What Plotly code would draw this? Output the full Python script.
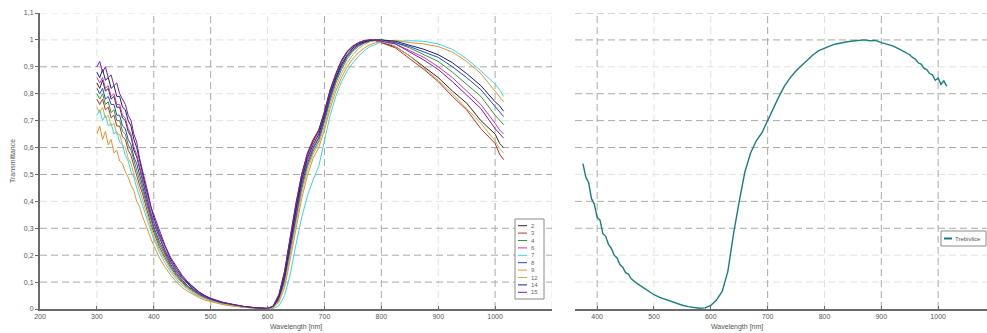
import plotly.graph_objects as go

# ---------------- data ----------------
wl_left = [300, 305, 310, 315, 320, 325, 330, 335, 340, 345, 350, 355, 360, 365, 370, 375, 380, 385, 390, 395, 400,
           410, 420, 430, 440, 450, 460, 470, 480, 490, 500,
           520, 540, 560, 580, 600,
           610, 620, 630, 640, 650, 660, 670, 680, 690, 700, 710, 720, 730, 740, 750, 760, 770, 780, 790, 800,
           825, 850, 875, 900, 925, 950, 975, 1000, 1008, 1015]

sample_2 = [0.84, 0.82, 0.85, 0.81, 0.82, 0.78, 0.79, 0.75, 0.75, 0.71, 0.70, 0.66, 0.64, 0.59, 0.565, 0.52, 0.48, 0.44, 0.395, 0.355, 0.32,
            0.265, 0.215, 0.174, 0.14, 0.113, 0.091, 0.073, 0.058, 0.046, 0.036,
            0.023, 0.014, 0.008, 0.004, 0.002,
            0.01, 0.05, 0.14, 0.27, 0.39, 0.50, 0.575, 0.625, 0.665, 0.735, 0.815, 0.875, 0.925, 0.958, 0.978, 0.99, 0.998, 1.0, 0.997, 0.99,
            0.975, 0.94, 0.90, 0.86, 0.81, 0.765, 0.70, 0.65, 0.615, 0.60]
sample_3 = [0.78, 0.76, 0.78, 0.74, 0.75, 0.71, 0.72, 0.68, 0.68, 0.64, 0.63, 0.59, 0.57, 0.53, 0.50, 0.46, 0.43, 0.39, 0.35, 0.315, 0.285,
            0.23, 0.19, 0.153, 0.123, 0.099, 0.08, 0.064, 0.051, 0.04, 0.032,
            0.02, 0.012, 0.007, 0.003, 0.001,
            0.01, 0.05, 0.13, 0.26, 0.38, 0.49, 0.57, 0.62, 0.66, 0.73, 0.81, 0.87, 0.92, 0.955, 0.975, 0.99, 0.997, 1.0, 0.998, 0.99,
            0.97, 0.93, 0.89, 0.845, 0.79, 0.74, 0.67, 0.615, 0.575, 0.555]
sample_4 = [0.80, 0.78, 0.80, 0.76, 0.77, 0.73, 0.74, 0.70, 0.70, 0.66, 0.65, 0.61, 0.59, 0.55, 0.52, 0.48, 0.445, 0.405, 0.365, 0.33, 0.295,
            0.24, 0.197, 0.16, 0.128, 0.103, 0.083, 0.067, 0.053, 0.042, 0.033,
            0.021, 0.013, 0.007, 0.003, 0.001,
            0.007, 0.035, 0.10, 0.215, 0.335, 0.445, 0.53, 0.585, 0.625, 0.695, 0.775, 0.84, 0.89, 0.93, 0.958, 0.976, 0.988, 0.995, 0.999, 1.0,
            0.99, 0.97, 0.945, 0.92, 0.88, 0.835, 0.79, 0.72, 0.70, 0.685]
sample_6 = [0.86, 0.84, 0.86, 0.82, 0.83, 0.79, 0.80, 0.76, 0.76, 0.72, 0.71, 0.67, 0.65, 0.60, 0.575, 0.53, 0.49, 0.445, 0.40, 0.36, 0.325,
            0.27, 0.22, 0.178, 0.143, 0.115, 0.093, 0.075, 0.06, 0.047, 0.037,
            0.024, 0.015, 0.008, 0.004, 0.002,
            0.008, 0.04, 0.115, 0.24, 0.36, 0.47, 0.55, 0.60, 0.64, 0.71, 0.79, 0.855, 0.905, 0.94, 0.965, 0.982, 0.992, 0.998, 1.0, 0.998,
            0.985, 0.96, 0.935, 0.90, 0.86, 0.81, 0.76, 0.69, 0.665, 0.65]
sample_7 = [0.72, 0.74, 0.70, 0.72, 0.68, 0.69, 0.65, 0.66, 0.62, 0.61, 0.57, 0.55, 0.51, 0.49, 0.45, 0.42, 0.385, 0.355, 0.32, 0.29, 0.26,
            0.21, 0.17, 0.137, 0.11, 0.089, 0.072, 0.058, 0.047, 0.037, 0.03,
            0.019, 0.011, 0.006, 0.003, 0.001,
            0.002, 0.012, 0.05, 0.13, 0.24, 0.34, 0.42, 0.48, 0.53, 0.62, 0.72, 0.79, 0.845, 0.885, 0.915, 0.94, 0.96, 0.975, 0.985, 0.992,
            0.995, 0.997, 0.995, 0.985, 0.965, 0.93, 0.885, 0.835, 0.815, 0.79]
sample_8 = [0.82, 0.80, 0.82, 0.78, 0.79, 0.76, 0.76, 0.72, 0.72, 0.68, 0.67, 0.63, 0.61, 0.565, 0.54, 0.495, 0.46, 0.42, 0.38, 0.34, 0.305,
            0.25, 0.205, 0.165, 0.133, 0.107, 0.086, 0.069, 0.055, 0.044, 0.035,
            0.022, 0.014, 0.008, 0.004, 0.002,
            0.008, 0.038, 0.11, 0.23, 0.35, 0.46, 0.54, 0.595, 0.635, 0.705, 0.785, 0.85, 0.90, 0.938, 0.963, 0.98, 0.99, 0.996, 1.0, 1.0,
            0.99, 0.975, 0.955, 0.935, 0.90, 0.86, 0.815, 0.75, 0.73, 0.715]
sample_9 = [0.65, 0.68, 0.63, 0.66, 0.61, 0.63, 0.58, 0.59, 0.55, 0.54, 0.51, 0.49, 0.46, 0.44, 0.40, 0.38, 0.345, 0.32, 0.29, 0.26, 0.235,
            0.19, 0.155, 0.125, 0.10, 0.08, 0.065, 0.052, 0.042, 0.033, 0.027,
            0.017, 0.01, 0.006, 0.003, 0.001,
            0.005, 0.025, 0.08, 0.185, 0.30, 0.41, 0.495, 0.56, 0.60, 0.665, 0.745, 0.81, 0.86, 0.90, 0.93, 0.953, 0.97, 0.982, 0.99, 0.995,
            0.998, 0.99, 0.985, 0.975, 0.955, 0.92, 0.875, 0.81, 0.79, 0.77]
sample_12 = [0.75, 0.73, 0.75, 0.71, 0.72, 0.68, 0.69, 0.65, 0.65, 0.61, 0.60, 0.56, 0.54, 0.50, 0.475, 0.44, 0.41, 0.37, 0.335, 0.30, 0.27,
             0.22, 0.18, 0.145, 0.117, 0.094, 0.076, 0.061, 0.049, 0.039, 0.031,
             0.019, 0.012, 0.006, 0.003, 0.001,
             0.006, 0.03, 0.09, 0.20, 0.32, 0.43, 0.515, 0.575, 0.615, 0.68, 0.76, 0.825, 0.875, 0.915, 0.945, 0.968, 0.983, 0.993, 0.998, 1.0,
             0.975, 0.94, 0.895, 0.85, 0.80, 0.745, 0.69, 0.625, 0.595, 0.58]
sample_14 = [0.88, 0.86, 0.89, 0.85, 0.86, 0.82, 0.83, 0.79, 0.79, 0.75, 0.74, 0.70, 0.68, 0.63, 0.60, 0.55, 0.51, 0.46, 0.42, 0.375, 0.34,
             0.28, 0.23, 0.185, 0.15, 0.12, 0.097, 0.078, 0.062, 0.049, 0.039,
             0.025, 0.016, 0.009, 0.004, 0.002,
             0.01, 0.045, 0.125, 0.25, 0.37, 0.48, 0.56, 0.61, 0.65, 0.72, 0.80, 0.86, 0.91, 0.945, 0.97, 0.985, 0.993, 0.998, 1.0, 1.0,
             0.995, 0.98, 0.965, 0.945, 0.915, 0.875, 0.83, 0.77, 0.755, 0.735]
sample_15 = [0.90, 0.92, 0.88, 0.90, 0.86, 0.87, 0.83, 0.84, 0.80, 0.78, 0.76, 0.72, 0.70, 0.65, 0.62, 0.56, 0.52, 0.47, 0.43, 0.38, 0.35,
             0.29, 0.235, 0.19, 0.155, 0.125, 0.10, 0.08, 0.063, 0.05, 0.04,
             0.026, 0.016, 0.009, 0.004, 0.002,
             0.012, 0.055, 0.14, 0.27, 0.395, 0.50, 0.58, 0.63, 0.665, 0.73, 0.81, 0.87, 0.92, 0.955, 0.975, 0.988, 0.996, 1.0, 1.0, 0.995,
             0.985, 0.955, 0.925, 0.89, 0.845, 0.795, 0.745, 0.67, 0.65, 0.635]

series_names = ["2", "3", "4", "6", "7", "8", "9", "12", "14", "15"]
series_values = [sample_2, sample_3, sample_4, sample_6, sample_7, sample_8, sample_9, sample_12, sample_14, sample_15]

wl_right = [375, 380, 385, 390, 395, 400, 405, 410, 415, 420, 425, 430, 435, 440, 445, 450, 455, 460,
            470, 480, 490, 500, 510, 520, 530, 540, 550, 560, 570, 580, 590, 600, 610, 620, 630, 640, 650, 660,
            670, 680, 690, 700, 710, 720, 730, 740, 750, 760, 770, 780, 790, 800, 810, 820, 830, 840, 850, 860,
            870, 880, 890, 900, 910, 920, 930, 940,
            950, 955, 960, 965, 970, 975, 980, 985, 990, 995, 1000, 1005, 1010, 1015]
trebivlice = [0.54, 0.49, 0.47, 0.41, 0.39, 0.34, 0.33, 0.28, 0.27, 0.24, 0.225, 0.20, 0.19, 0.165, 0.155, 0.135, 0.13, 0.112,
              0.095, 0.08, 0.066, 0.053, 0.043, 0.035, 0.027, 0.02, 0.014, 0.009, 0.005, 0.003, 0.004, 0.013, 0.033, 0.065, 0.14, 0.28, 0.40, 0.51,
              0.58, 0.625, 0.655, 0.70, 0.75, 0.79, 0.83, 0.86, 0.885, 0.905, 0.925, 0.945, 0.96, 0.97, 0.978, 0.985, 0.99, 0.993, 0.996, 0.999,
              1.0, 0.997, 0.998, 0.99, 0.985, 0.978, 0.968, 0.955,
              0.945, 0.935, 0.928, 0.915, 0.91, 0.895, 0.89, 0.875, 0.87, 0.85, 0.858, 0.835, 0.848, 0.828]
right_name = "Trebivlice"

left_x_ticks = [200, 300, 400, 500, 600, 700, 800, 900, 1000]
right_x_ticks = [400, 500, 600, 700, 800, 900, 1000]
y_ticks = [0, 0.1, 0.2, 0.3, 0.4, 0.5, 0.6, 0.7, 0.8, 0.9, 1.0, 1.1]
y_tick_text = ["0", "0,1", "0,2", "0,3", "0,4", "0,5", "0,6", "0,7", "0,8", "0,9", "1", "1,1"]

left_grid_x_dark = [400, 500, 700, 800, 1000]
left_grid_x_light = [300, 600, 900, 1100]
left_grid_y_dark = [0.1, 0.2, 0.3, 0.5, 0.6, 0.9]
left_grid_y_light = [0.4, 0.7, 0.8, 1.0, 1.1]
right_grid_x_dark = [400, 700, 900, 1000]
right_grid_x_light = [500, 600, 800]
right_grid_y_dark = [0.3, 0.4, 0.6, 0.7, 0.8, 1.0, 1.1]
right_grid_y_light = [0.1, 0.2, 0.5, 0.9]

# ---------------- styles ----------------
series_colors = ["#2b2b2b", "#b8312a", "#2e9a2e", "#c833c8", "#35d6ea", "#2a45c8",
                 "#e8902a", "#c7b24a", "#1c2166", "#7a1fa0"]
teal = "#17807c"
W, H = 987, 333
FONT = "Liberation Sans, Arial, sans-serif"
DARK = "#a7aca4"
LIGHT = "#dde6dc"
AXIS = "#6a6a6a"


def px(x):
    return x / W


def py(y):
    return 1 - y / H


fig = go.Figure()
for name, vals, col in zip(series_names, series_values, series_colors):
    fig.add_trace(go.Scatter(x=wl_left, y=vals, mode="lines", name=name,
                             line=dict(color=col, width=1), xaxis="x", yaxis="y",
                             showlegend=False))
fig.add_trace(go.Scatter(x=wl_right, y=trebivlice, mode="lines", name=right_name,
                         line=dict(color=teal, width=1.4), xaxis="x2", yaxis="y2",
                         showlegend=False))

tickfont = dict(family=FONT, size=7, color="#555")
fig.update_layout(
    width=W, height=H, margin=dict(l=0, r=0, t=0, b=0, autoexpand=False),
    paper_bgcolor="white", plot_bgcolor="white",
    xaxis=dict(domain=[px(40), px(552)], range=[200, 1100], tickvals=left_x_ticks, automargin=False,
               showgrid=False, zeroline=False, showline=True, linecolor=AXIS, linewidth=2,
               ticks="inside", ticklen=3, tickcolor=AXIS, tickfont=tickfont, anchor="y"),
    yaxis=dict(domain=[py(309), py(13)], range=[0, 1.1], tickvals=y_ticks, ticktext=y_tick_text, automargin=False,
               showgrid=False, zeroline=False, showline=True, linecolor=AXIS, linewidth=2,
               ticks="outside", ticklen=3, tickcolor=AXIS, tickfont=tickfont, anchor="x"),
    xaxis2=dict(domain=[px(575), 1.0], range=[361, 1086], tickvals=right_x_ticks, automargin=False,
                showgrid=False, zeroline=False, showline=True, linecolor=AXIS, linewidth=2,
                ticks="inside", ticklen=3, tickcolor=AXIS, tickfont=tickfont, anchor="y2"),
    yaxis2=dict(domain=[py(309), py(13)], range=[0, 1.1], showticklabels=False, automargin=False,
                showgrid=False, zeroline=False, showline=False, anchor="x2"),
    showlegend=False,
)

# grid lines (drawn from tick value lists)
def vgrid(vals, color, xref, yref):
    for v in vals:
        fig.add_shape(type="line", xref=xref, yref=yref + " domain", x0=v, x1=v, y0=0, y1=1,
                      line=dict(color=color, width=1, dash="7px,4px"), layer="below")


def hgrid(vals, color, xref, yref):
    for v in vals:
        fig.add_shape(type="line", xref=xref + " domain", yref=yref, x0=0, x1=1, y0=v, y1=v,
                      line=dict(color=color, width=1, dash="7px,4px"), layer="below")


hgrid(left_grid_y_light, LIGHT, "x", "y")
vgrid(left_grid_x_light, LIGHT, "x", "y")
hgrid(left_grid_y_dark, DARK, "x", "y")
vgrid(left_grid_x_dark, DARK, "x", "y")
hgrid(right_grid_y_light, LIGHT, "x2", "y2")
vgrid(right_grid_x_light, LIGHT, "x2", "y2")
hgrid(right_grid_y_dark, DARK, "x2", "y2")
vgrid(right_grid_x_dark, DARK, "x2", "y2")

# axis titles
title_font = dict(family=FONT, size=7, color="#555")
fig.add_annotation(text="Wavelength [nm]", xref="paper", yref="paper", x=px(296), y=py(327),
                   showarrow=False, font=title_font, xanchor="center", yanchor="middle")
fig.add_annotation(text="Wavelength [nm]", xref="paper", yref="paper", x=px(737), y=py(327),
                   showarrow=False, font=title_font, xanchor="center", yanchor="middle")
fig.add_annotation(text="Transmittance", xref="paper", yref="paper", x=px(12), y=py(161),
                   showarrow=False, font=title_font, textangle=-90, xanchor="center", yanchor="middle")

# custom legend (left)
lx0, lx1, ly0, ly1 = 515, 544, 219, 299
fig.add_shape(type="rect", xref="paper", yref="paper", x0=px(lx0), x1=px(lx1), y0=py(ly1), y1=py(ly0),
              line=dict(color="#8a8a8a", width=1), fillcolor="white", layer="above")
step = (ly1 - ly0 - 6) / len(series_names)
for i, (name, col) in enumerate(zip(series_names, series_colors)):
    yy = ly0 + 3 + step * (i + 0.5)
    fig.add_shape(type="line", xref="paper", yref="paper", x0=px(lx0 + 3), x1=px(lx0 + 12),
                  y0=py(yy), y1=py(yy), line=dict(color=col, width=1), layer="above")
    fig.add_annotation(text=name, xref="paper", yref="paper", x=px(lx0 + 14), y=py(yy),
                       showarrow=False, xanchor="left", yanchor="middle",
                       font=dict(family=FONT, size=6, color="#666"))

# custom legend (right)
rx0, rx1, ry0, ry1 = 941, 986, 231, 246
fig.add_shape(type="rect", xref="paper", yref="paper", x0=px(rx0), x1=px(rx1), y0=py(ry1), y1=py(ry0),
              line=dict(color="#8a8a8a", width=1), fillcolor="white", layer="above")
fig.add_shape(type="line", xref="paper", yref="paper", x0=px(rx0 + 3), x1=px(rx0 + 11),
              y0=py((ry0 + ry1) / 2), y1=py((ry0 + ry1) / 2), line=dict(color=teal, width=2), layer="above")
fig.add_annotation(text=right_name, xref="paper", yref="paper", x=px(rx0 + 12), y=py((ry0 + ry1) / 2),
                   showarrow=False, xanchor="left", yanchor="middle",
                   font=dict(family=FONT, size=6, color="#555"))

fig.write_html("out.html", config={"displayModeBar": False},
               post_script="document.body.style.margin='0';document.body.style.padding='0';"
                           "document.body.style.overflow='hidden';")
